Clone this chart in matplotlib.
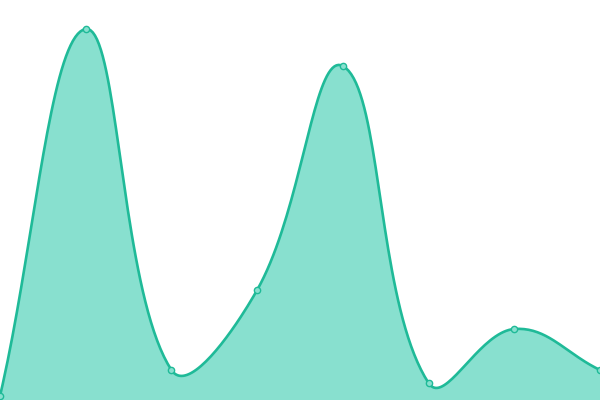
import numpy as np
import matplotlib
matplotlib.use("Agg")
import matplotlib.pyplot as plt

# valores
categorias = ["A", "B", "C", "D", "E", "F", "G", "H"]
valores = [1.0, 92.75, 7.5, 27.5, 83.5, 4.25, 17.75, 7.5]

cor_linha = "#1fba98"
cor_area = "#88e0cf"


def curva_suave(px, py, t=0.4, n=40):
    # spline estilo chart.js (tensao 0.4), em coordenadas de pixel
    pts = np.column_stack([px, py])
    m = len(pts)
    cps = []
    for i in range(m):
        ant = pts[max(i - 1, 0)]
        cur = pts[i]
        prox = pts[min(i + 1, m - 1)]
        d01 = np.hypot(*(cur - ant))
        d12 = np.hypot(*(prox - cur))
        tot = d01 + d12
        s01 = d01 / tot if tot else 0
        s12 = d12 / tot if tot else 0
        c_ant = cur - t * s01 * (prox - ant)
        c_prox = cur + t * s12 * (prox - ant)
        cps.append((c_ant, c_prox))
    xs, ys = [], []
    u = np.linspace(0, 1, n)[:, None]
    for i in range(m - 1):
        p0 = pts[i]
        p1 = cps[i][1]
        p2 = cps[i + 1][0]
        p3 = pts[i + 1]
        b = ((1 - u) ** 3) * p0 + 3 * ((1 - u) ** 2) * u * p1 + 3 * (1 - u) * u ** 2 * p2 + u ** 3 * p3
        xs.extend(b[:, 0])
        ys.extend(b[:, 1])
    return np.array(xs), np.array(ys)


fig = plt.figure(figsize=(6, 4), dpi=100)
ax = fig.add_axes([0, 0, 1, 1])
ax.set_xlim(0, len(categorias) - 1)
ax.set_ylim(0, 100)
ax.axis("off")

x = np.arange(len(categorias))
pix = ax.transData.transform(np.column_stack([x, valores]))
sx, sy = curva_suave(pix[:, 0], pix[:, 1])
dados = ax.transData.inverted().transform(np.column_stack([sx, sy]))

ax.fill_between(dados[:, 0], dados[:, 1], 0, color=cor_area, lw=0, zorder=1)
ax.plot(dados[:, 0], dados[:, 1], color=cor_linha, lw=1.9, zorder=2, clip_on=False)
ax.plot(x, valores, "o", ms=4.5, mfc=cor_area, mec=cor_linha, mew=1.0, zorder=3, clip_on=False)

fig.savefig("out.png", dpi=100)
